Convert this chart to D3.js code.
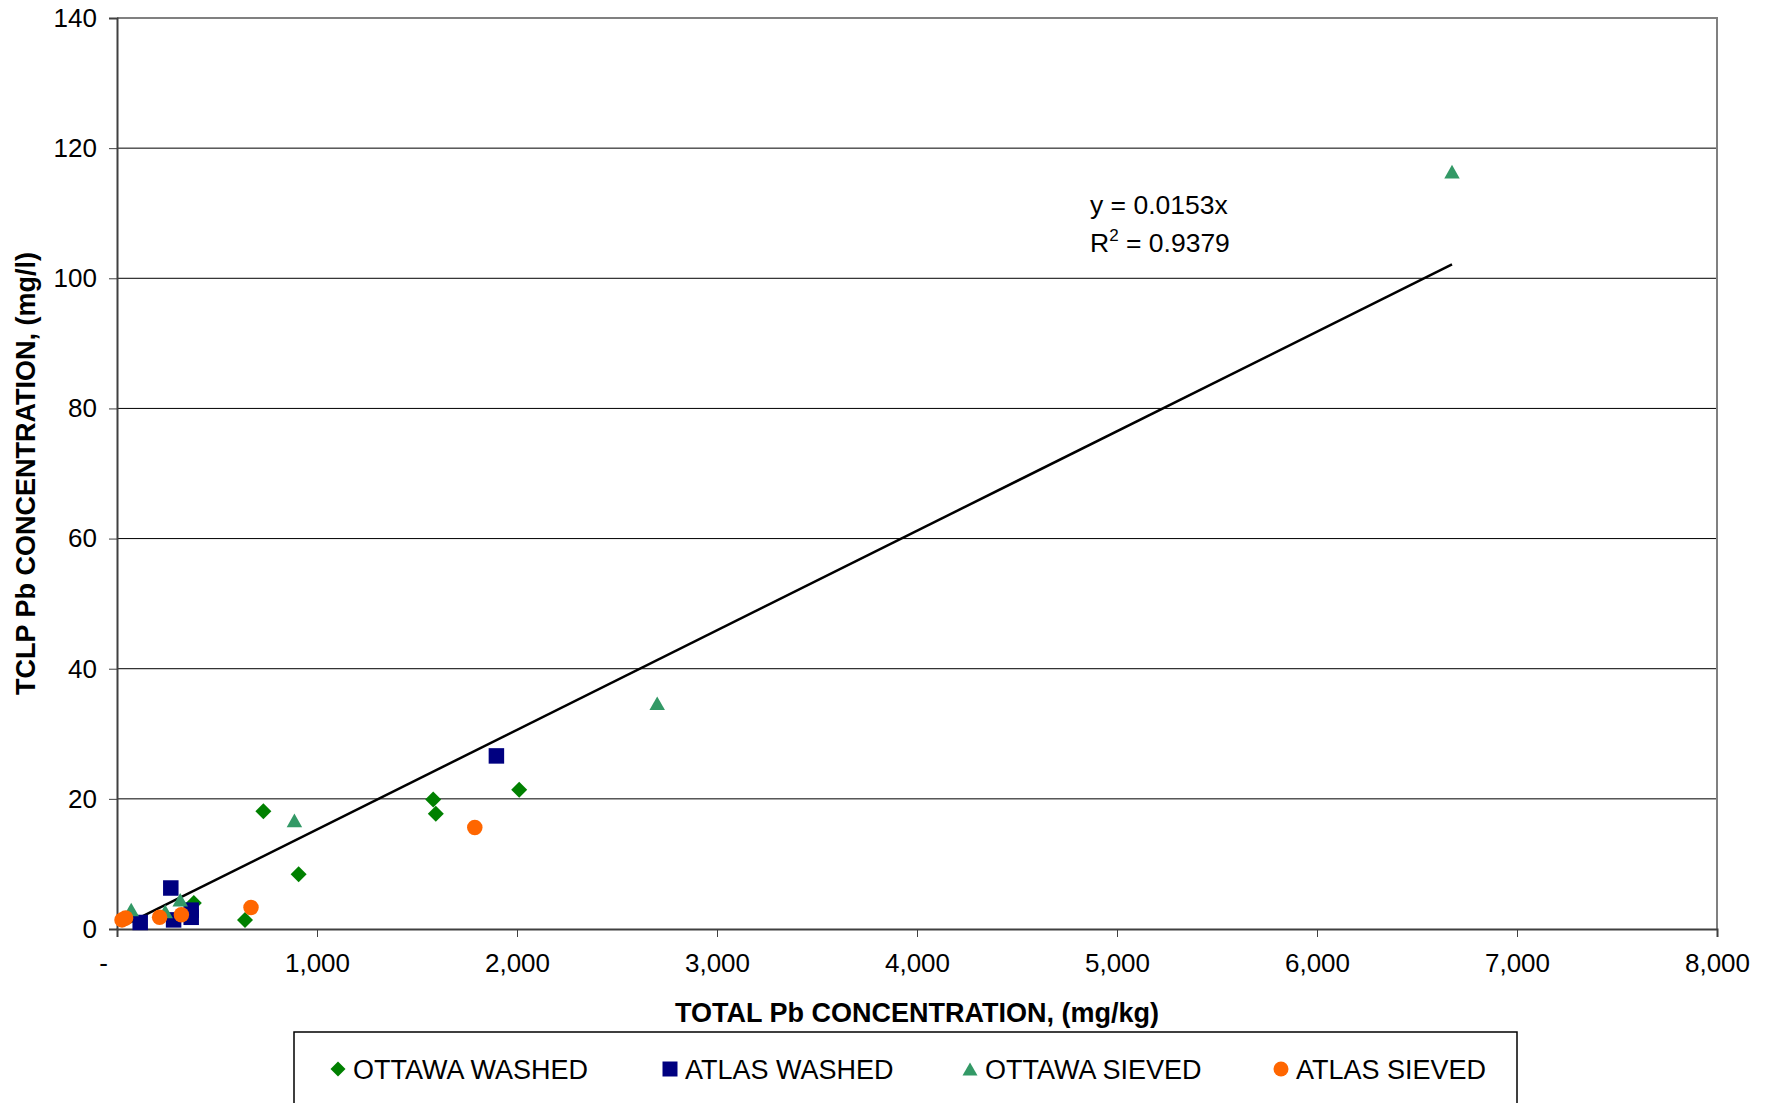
<!DOCTYPE html>
<html>
<head>
<meta charset="utf-8">
<script src="https://cdn.jsdelivr.net/npm/d3@7"></script>
<style>
  html, body { margin: 0; padding: 0; background: #fff; }
  svg { display: block; font-family: "Liberation Sans", Arial, sans-serif; }
</style>
</head>
<body>
<svg id="chart" width="1774" height="1103"></svg>
<script>
// ---- data ----
const ottawaWashed = [[384, 4.0], [640, 1.4], [732, 18.1], [908, 8.4], [1581, 19.9], [1594, 17.7], [2011, 21.4]];
const atlasWashed  = [[116, 1.0], [269, 6.3], [283, 1.4], [371, 2.9], [371, 1.8], [1897, 26.6]];
const ottawaSieved = [[71, 3.0], [241, 2.7], [316, 4.5], [887, 16.7], [2701, 34.7], [6675, 116.4]];
const atlasSieved  = [[25, 1.4], [43, 1.7], [213, 1.8], [322, 2.2], [670, 3.3], [1789, 15.6]];
const seriesNames  = ["OTTAWA WASHED", "ATLAS WASHED", "OTTAWA SIEVED", "ATLAS SIEVED"];
const trendSlope = 0.0153;
const trendR2 = 0.9379;
const trendRange = [43, 6675];
const xTicks = [0, 1000, 2000, 3000, 4000, 5000, 6000, 7000, 8000];
const yTicks = [0, 20, 40, 60, 80, 100, 120, 140];
const xTitle = "TOTAL Pb CONCENTRATION, (mg/kg)";
const yTitle = "TCLP Pb CONCENTRATION, (mg/l)";

// ---- layout ----
const svg = d3.select("#chart");
const L = 117, R = 1717, T = 18, B = 929;
const x = d3.scaleLinear().domain([0, 8000]).range([L, R]);
const y = d3.scaleLinear().domain([0, 140]).range([B, T]);

const styles = [
  { shape: "diamond",  color: "#008000" },
  { shape: "square",   color: "#000080" },
  { shape: "triangle", color: "#339966" },
  { shape: "circle",   color: "#FF6600" }
];

function markerPath(shape, s) {
  const h = s / 2;
  if (shape === "diamond") return `M0,${-h}L${h},0L0,${h}L${-h},0Z`;
  if (shape === "square") { const q = h; return `M${-q},${-q}H${q}V${q}H${-q}Z`; }
  if (shape === "triangle") { const th = s * 0.88; return `M0,${-th/2}L${h},${th/2}L${-h},${th/2}Z`; }
  const p = d3.path(); p.arc(0, 0, h, 0, 2 * Math.PI); return p.toString();
}

// gridlines
svg.append("g")
  .selectAll("line").data(yTicks.filter(d => d > 0 && d < 140)).join("line")
  .attr("x1", L).attr("x2", R)
  .attr("y1", d => y(d)).attr("y2", d => y(d))
  .attr("stroke", "#000").attr("stroke-width", 1);

// plot border (top, right)
svg.append("path")
  .attr("d", `M${L},${T}H${R}V${B}`)
  .attr("fill", "none").attr("stroke", "#808080").attr("stroke-width", 2);

// y axis
const yAxis = d3.axisLeft(y).tickValues(yTicks).tickSize(8).tickPadding(12).tickFormat(d3.format("d"));
const gy = svg.append("g").attr("transform", `translate(${L},0)`).call(yAxis);
gy.select(".domain").attr("stroke", "#404040").attr("stroke-width", 2);
gy.selectAll(".tick line").attr("stroke", "#404040");
gy.selectAll(".tick text").attr("font-size", 26).attr("fill", "#000")
  .attr("font-family", "Liberation Sans, Arial, sans-serif");

// x axis
const xAxis = d3.axisBottom(x).tickValues(xTicks).tickSize(8).tickPadding(17)
  .tickFormat(d => d === 0 ? "-" : d3.format(",")(d));
const gx = svg.append("g").attr("transform", `translate(0,${B})`).call(xAxis);
gx.select(".domain").attr("stroke", "#404040").attr("stroke-width", 2);
gx.selectAll(".tick line").attr("stroke", "#404040");
gx.selectAll(".tick text").attr("font-size", 26).attr("fill", "#000")
  .attr("font-family", "Liberation Sans, Arial, sans-serif")
  .attr("dx", d => d === 0 ? -14 : 0);

// axis titles
svg.append("text")
  .attr("x", (L + R) / 2).attr("y", 1022)
  .attr("text-anchor", "middle").attr("font-weight", "bold").attr("font-size", 27)
  .text(xTitle);
svg.append("text")
  .attr("transform", `translate(35,${(T + B) / 2}) rotate(-90)`)
  .attr("text-anchor", "middle").attr("font-weight", "bold").attr("font-size", 27)
  .text(yTitle);

// trendline
svg.append("line")
  .attr("x1", x(trendRange[0])).attr("y1", y(trendSlope * trendRange[0]))
  .attr("x2", x(trendRange[1])).attr("y2", y(trendSlope * trendRange[1]))
  .attr("stroke", "#000").attr("stroke-width", 2.5);

// series markers
const allSeries = [ottawaWashed, atlasWashed, ottawaSieved, atlasSieved];
allSeries.forEach((data, i) => {
  const st = styles[i];
  svg.append("g")
    .selectAll("path").data(data).join("path")
    .attr("transform", d => `translate(${x(d[0])},${y(d[1])})`)
    .attr("d", markerPath(st.shape, st.shape === "diamond" ? 16 : 15.5))
    .attr("fill", st.color);
});

// trend equation
svg.append("text").attr("font-size", 26.5).attr("fill", "#000")
  .attr("x", 1090).attr("y", 214).text("y = " + trendSlope + "x");
const r2 = svg.append("text").attr("font-size", 26.5).attr("fill", "#000").attr("x", 1090).attr("y", 252);
r2.append("tspan").text("R");
r2.append("tspan").attr("font-size", 17).attr("dy", -11).text("2");
r2.append("tspan").attr("dy", 11).text(" = " + trendR2);

// legend
svg.append("rect")
  .attr("x", 294).attr("y", 1032).attr("width", 1223).attr("height", 100)
  .attr("fill", "#fff").attr("stroke", "#000").attr("stroke-width", 1.5);
const legendX = [338, 670, 970, 1281];
seriesNames.forEach((name, i) => {
  const g = svg.append("g").attr("transform", `translate(${legendX[i]},1069)`);
  g.append("path").attr("d", markerPath(styles[i].shape, 15)).attr("fill", styles[i].color);
  g.append("text").attr("x", 15).attr("y", 9.5).attr("font-size", 27).text(name);
});
</script>
</body>
</html>
